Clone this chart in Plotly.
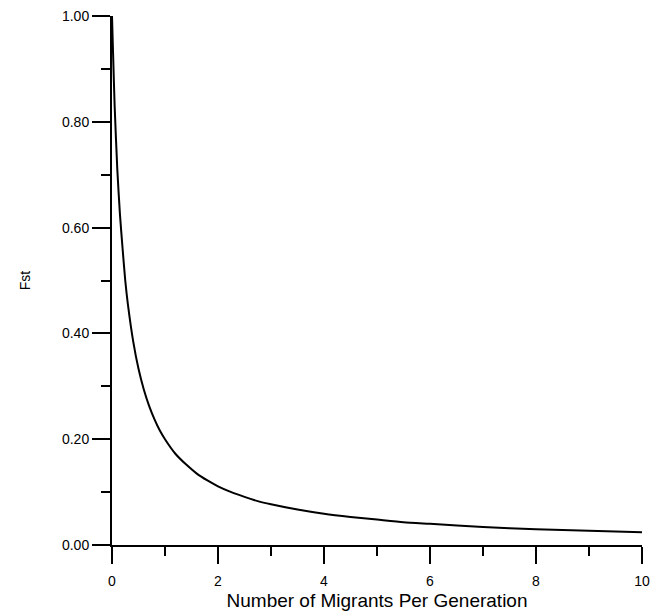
import plotly.graph_objects as go

# Values
migrants = [0, 0.02, 0.05, 0.1, 0.15, 0.2, 0.25, 0.3, 0.4, 0.5, 0.6, 0.7, 0.8, 0.9, 1.0, 1.2, 1.4, 1.6, 1.8, 2.0,
            2.25, 2.5, 2.75, 3.0, 3.5, 4.0, 4.5, 5.0, 5.5, 6.0, 7.0, 8.0, 9.0, 10.0]
fst = [1.0, 0.93, 0.83, 0.71, 0.625, 0.56, 0.50, 0.455, 0.385, 0.333, 0.294, 0.263, 0.238, 0.217, 0.20, 0.172, 0.152,
       0.135, 0.122, 0.111, 0.100, 0.091, 0.083, 0.077, 0.067, 0.059, 0.053, 0.048, 0.043, 0.040, 0.034, 0.030, 0.027, 0.024]

x_tickvals = [0, 2, 4, 6, 8, 10]
x_ticktext = ["0", "2", "4", "6", "8", "10"]
y_tickvals = [0, 0.2, 0.4, 0.6, 0.8, 1.0]
y_ticktext = ["0.00", "0.20", "0.40", "0.60", "0.80", "1.00"]

fig = go.Figure()
fig.add_trace(go.Scatter(
    x=migrants, y=fst, mode="lines",
    line=dict(color="black", width=2, shape="spline", smoothing=0.6),
    showlegend=False, hoverinfo="skip", cliponaxis=False,
))

font = dict(family="Liberation Sans, Arial, sans-serif", color="black")

fig.update_layout(
    width=658, height=613,
    margin=dict(l=112, r=16, t=16, b=68, autoexpand=False),
    paper_bgcolor="white", plot_bgcolor="white",
    font=dict(**font, size=14),
    xaxis=dict(
        range=[0, 10], showgrid=False, zeroline=False, automargin=False,
        showline=True, linecolor="black", linewidth=2,
        ticks="outside", ticklen=17, tickwidth=1.5, tickcolor="black",
        tickvals=x_tickvals, ticktext=x_ticktext, ticklabelstandoff=5,
        tickfont=dict(**font, size=14),
        minor=dict(ticks="outside", ticklen=9, tickwidth=1.5, tickcolor="black", dtick=1, showgrid=False),
        title=dict(text="Number of Migrants Per Generation", font=dict(**font, size=19), standoff=6),
    ),
    yaxis=dict(
        range=[0, 1], showgrid=False, zeroline=False, automargin=False,
        showline=True, linecolor="black", linewidth=2,
        ticks="outside", ticklen=18, tickwidth=1.5, tickcolor="black",
        tickvals=y_tickvals, ticktext=y_ticktext, ticklabelstandoff=0,
        tickfont=dict(**font, size=14),
        minor=dict(ticks="outside", ticklen=9, tickwidth=1.5, tickcolor="black", dtick=0.1, showgrid=False),
        title=dict(text="Fst", font=dict(**font, size=14), standoff=28),
    ),
)

fig.write_html(
    "out.html",
    config={"displayModeBar": False},
    post_script="document.body.style.margin='0';document.body.style.overflow='hidden';",
)
